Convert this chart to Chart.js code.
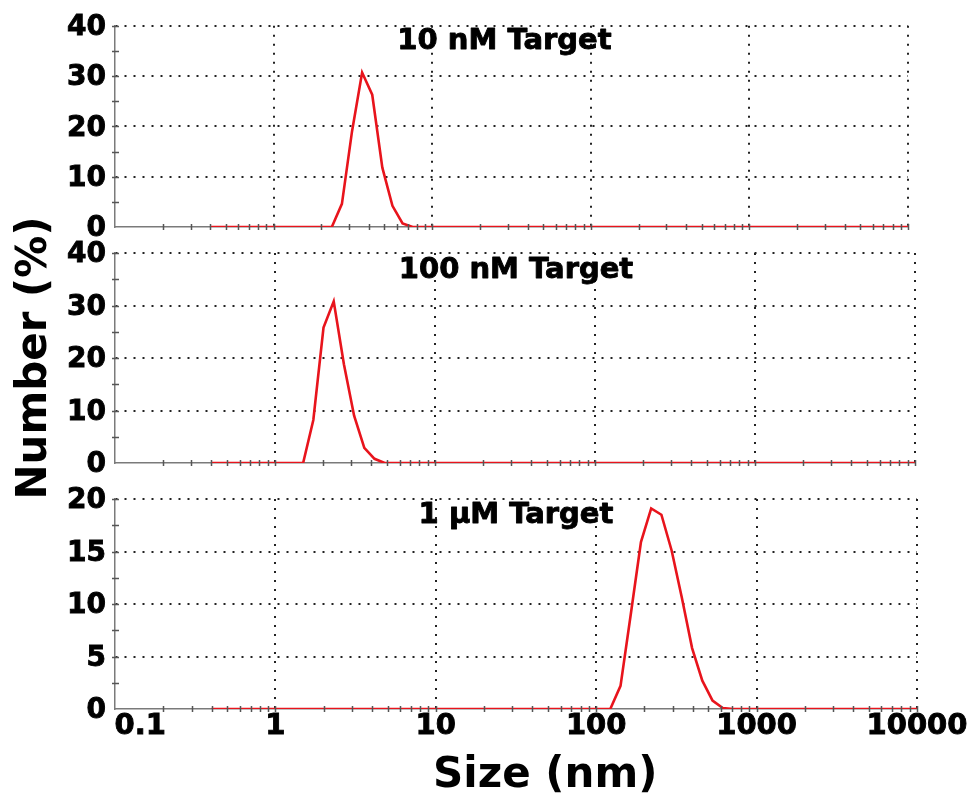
<!DOCTYPE html>
<html>
<head>
<meta charset="utf-8">
<script src="https://cdn.jsdelivr.net/npm/chart.js@4/dist/chart.umd.min.js"></script>
<style>
  html, body { margin: 0; padding: 0; background: #ffffff; }
  #wrap { position: relative; width: 969px; height: 801px; overflow: hidden; background: #ffffff; }
  #wrap canvas { position: absolute; left: 0; top: 0; }
</style>
</head>
<body>
<div id="wrap">
  <canvas id="panel10nM" width="969" height="801"></canvas>
  <canvas id="panel100nM" width="969" height="801"></canvas>
  <canvas id="panel1uM" width="969" height="801"></canvas>
</div>
<script>
// ---------------- data ----------------
const sizes = [
  0.4, 0.4632, 0.5365, 0.6213, 0.7195, 0.8332, 0.9649, 1.117, 1.294, 1.499,
  1.736, 2.010, 2.328, 2.696, 3.122, 3.615, 4.187, 4.849, 5.615, 6.503,
  7.531, 8.721, 10.10, 11.70, 13.54, 15.69, 18.17, 21.04, 24.36, 28.21,
  32.67, 37.84, 43.82, 50.75, 58.77, 68.06, 78.82, 91.28, 105.7, 122.4,
  141.8, 164.2, 190.1, 220.2, 255.0, 295.3, 342.0, 396.1, 458.7, 531.2,
  615.1, 712.4, 825.0, 955.4, 1106, 1281, 1484, 1718, 1990, 2305,
  2669, 3091, 3580, 4145, 4801, 5560, 6439, 7456, 8635, 10000
];

const target10nM = [
  0, 0, 0, 0, 0, 0, 0, 0, 0, 0,
  0, 0, 0, 4.6, 19.0, 30.7, 26.3, 11.8, 4.2, 0.7,
  0, 0, 0, 0, 0, 0, 0, 0, 0, 0,
  0, 0, 0, 0, 0, 0, 0, 0, 0, 0,
  0, 0, 0, 0, 0, 0, 0, 0, 0, 0,
  0, 0, 0, 0, 0, 0, 0, 0, 0, 0,
  0, 0, 0, 0, 0, 0, 0, 0, 0, 0
];

const target100nM = [
  0, 0, 0, 0, 0, 0, 0, 0, 0, 0,
  8.2, 25.8, 30.8, 18.8, 9.0, 2.9, 0.8, 0, 0, 0,
  0, 0, 0, 0, 0, 0, 0, 0, 0, 0,
  0, 0, 0, 0, 0, 0, 0, 0, 0, 0,
  0, 0, 0, 0, 0, 0, 0, 0, 0, 0,
  0, 0, 0, 0, 0, 0, 0, 0, 0, 0,
  0, 0, 0, 0, 0, 0, 0, 0, 0, 0
];

const target1uM = [
  0, 0, 0, 0, 0, 0, 0, 0, 0, 0,
  0, 0, 0, 0, 0, 0, 0, 0, 0, 0,
  0, 0, 0, 0, 0, 0, 0, 0, 0, 0,
  0, 0, 0, 0, 0, 0, 0, 0, 0, 0,
  2.2, 9.0, 15.9, 19.1, 18.5, 15.1, 10.6, 5.8, 2.7, 0.8,
  0.1, 0, 0, 0, 0, 0, 0, 0, 0, 0,
  0, 0, 0, 0, 0, 0, 0, 0, 0, 0
];

const panelTitles = ['10 nM Target', '100 nM Target', '1 µM Target'];
const xAxisTitle = 'Size (nm)';
const yAxisTitle = 'Number (%)';

const xTicks = [
  0.1, 0.2, 0.3, 0.4, 0.5, 0.6, 0.7, 0.8, 0.9,
  1, 2, 3, 4, 5, 6, 7, 8, 9,
  10, 20, 30, 40, 50, 60, 70, 80, 90,
  100, 200, 300, 400, 500, 600, 700, 800, 900,
  1000, 2000, 3000, 4000, 5000, 6000, 7000, 8000, 9000,
  10000
];
const xMajorTicks = [0.1, 1, 10, 100, 1000, 10000];
const xMajorLabels = ['0.1', '1', '10', '100', '1000', '10000'];

const yTicks40 = [0, 5, 10, 15, 20, 25, 30, 35, 40];
const yLabels40 = ['0', '', '10', '', '20', '', '30', '', '40'];
const yTicks20 = [0, 2.5, 5, 7.5, 10, 12.5, 15, 17.5, 20];
const yLabels20 = ['0', '', '5', '', '10', '', '15', '', '20'];

// ---------------- styling ----------------
const FONT = "'DejaVu Sans', Verdana, sans-serif";
Chart.defaults.font.family = FONT;
Chart.defaults.font.weight = 'bold';
Chart.defaults.color = '#000000';
const GRID = '#222222';
const AXIS = '#7a7a7a';
const RED = '#e8141c';
const CLEAR = 'rgba(0,0,0,0)';

// short tick marks crossing the axis lines
const tickMarks = {
  id: 'tickMarks',
  afterDatasetsDraw(chart, args, opts) {
    const { ctx, chartArea: a, scales: { x, y } } = chart;
    ctx.save();
    ctx.strokeStyle = '#555555';
    ctx.lineWidth = 1.5;
    ctx.beginPath();
    xTicks.forEach((v, i) => {
      if (i === 0) return;
      const px = Math.round(x.getPixelForValue(v)) + 0.5;
      ctx.moveTo(px, a.bottom - 3);
      ctx.lineTo(px, a.bottom + 3);
    });
    opts.ticks.forEach((v, i) => {
      if (i === 0) return;
      const py = Math.round(y.getPixelForValue(v)) + 0.5;
      ctx.moveTo(a.left - 3, py);
      ctx.lineTo(a.left + 4, py);
    });
    ctx.stroke();
    ctx.restore();
  }
};

// panel label inside the plot area
const panelTitle = {
  id: 'panelTitle',
  afterDraw(chart, args, opts) {
    const { ctx, chartArea: a } = chart;
    ctx.save();
    ctx.font = 'bold 29px ' + FONT;
    ctx.fillStyle = '#000000';
    ctx.strokeStyle = '#000000';
    ctx.lineWidth = 0.9;
    ctx.lineJoin = 'round';
    ctx.textAlign = 'center';
    ctx.textBaseline = 'alphabetic';
    const tx = (a.left + a.right) / 2 + opts.dx;
    const ty = a.top + opts.dy;
    ctx.fillText(opts.text, tx, ty);
    ctx.strokeText(opts.text, tx, ty);
    ctx.restore();
  }
};

function buildPanel(cfg) {
  const xLabelFor = (v) => {
    const i = xMajorTicks.indexOf(v);
    if (i < 0) return '';
    return i === 0 ? '     ' + xMajorLabels[i] : xMajorLabels[i];
  };
  const yLabelFor = (v) => {
    const i = cfg.yTicks.indexOf(v);
    return i < 0 ? '' : cfg.yLabels[i];
  };
  return new Chart(document.getElementById(cfg.id), {
    type: 'line',
    data: {
      datasets: [{
        data: sizes.map((s, i) => ({ x: s, y: cfg.values[i] })),
        borderColor: RED,
        borderWidth: 2.6,
        pointRadius: 0,
        tension: 0,
        fill: false
      }]
    },
    options: {
      responsive: false,
      animation: false,
      events: [],
      layout: { padding: cfg.pad },
      scales: {
        x: {
          type: 'logarithmic',
          min: 0.1,
          max: 10000,
          afterBuildTicks: (s) => { s.ticks = xTicks.map((v) => ({ value: v })); },
          afterFit: (s) => { s.height = cfg.xHeight; },
          grid: {
            color: (c) => (c.tick && c.tick.value !== 0.1 && xMajorTicks.includes(c.tick.value)) ? GRID : CLEAR,
            lineWidth: 2,
            drawTicks: false
          },
          border: { display: true, color: AXIS, width: 1.5, dash: [2, 7] },
          ticks: {
            display: cfg.showX,
            autoSkip: false,
            maxRotation: 0,
            minRotation: 0,
            padding: 0,
            color: '#000000',
            textStrokeColor: '#000000',
            textStrokeWidth: 0.9,
            font: { size: 29, weight: 'bold', family: FONT },
            callback: (v) => xLabelFor(v)
          },
          title: {
            display: cfg.showX,
            text: '    ' + xAxisTitle,
            color: '#000000',
            font: { size: 42, weight: 'bold', family: FONT },
            padding: { top: 0, bottom: 0 }
          }
        },
        y: {
          type: 'linear',
          min: 0,
          max: cfg.yMax,
          afterBuildTicks: (s) => { s.ticks = cfg.yTicks.map((v) => ({ value: v })); },
          afterFit: (s) => { s.width = 115; },
          grid: {
            color: (c) => (c.tick && c.tick.value !== 0 && yLabelFor(c.tick.value) !== '') ? GRID : CLEAR,
            lineWidth: 2,
            drawTicks: false
          },
          border: { display: true, color: AXIS, width: 1.5, dash: [2, 7] },
          ticks: {
            autoSkip: false,
            padding: 9,
            labelOffset: 2,
            color: '#000000',
            textStrokeColor: '#000000',
            textStrokeWidth: 0.9,
            font: { size: 28, weight: 'bold', family: FONT },
            callback: (v) => yLabelFor(v)
          },
          title: {
            display: !!cfg.yTitle,
            text: cfg.yTitle || '',
            color: '#000000',
            font: { size: 42, weight: 'bold', family: FONT },
            padding: { top: 10, bottom: 0 }
          }
        }
      },
      plugins: {
        legend: { display: false },
        tooltip: { enabled: false },
        tickMarks: { ticks: cfg.yTicks },
        panelTitle: { text: cfg.title, dx: cfg.titleDx, dy: cfg.titleDy }
      }
    },
    plugins: [tickMarks, panelTitle]
  });
}

buildPanel({
  id: 'panel10nM', values: target10nM, yTicks: yTicks40, yLabels: yLabels40, yMax: 40,
  pad: { left: 0, top: 19, right: 61, bottom: 574 }, xHeight: 0, showX: false,
  title: panelTitles[0], titleDx: -7, titleDy: 23, yTitle: ''
});
buildPanel({
  id: 'panel100nM', values: target100nM, yTicks: yTicks40, yLabels: yLabels40, yMax: 40,
  pad: { left: 0, top: 253, right: 54, bottom: 338 }, xHeight: 0, showX: false,
  title: panelTitles[1], titleDx: 1, titleDy: 25, yTitle: yAxisTitle
});
buildPanel({
  id: 'panel1uM', values: target1uM, yTicks: yTicks20, yLabels: yLabels20, yMax: 20,
  pad: { left: 0, top: 499, right: 52, bottom: 0 }, xHeight: 92, showX: true,
  title: panelTitles[2], titleDx: 0, titleDy: 24, yTitle: ''
});
</script>
</body>
</html>
